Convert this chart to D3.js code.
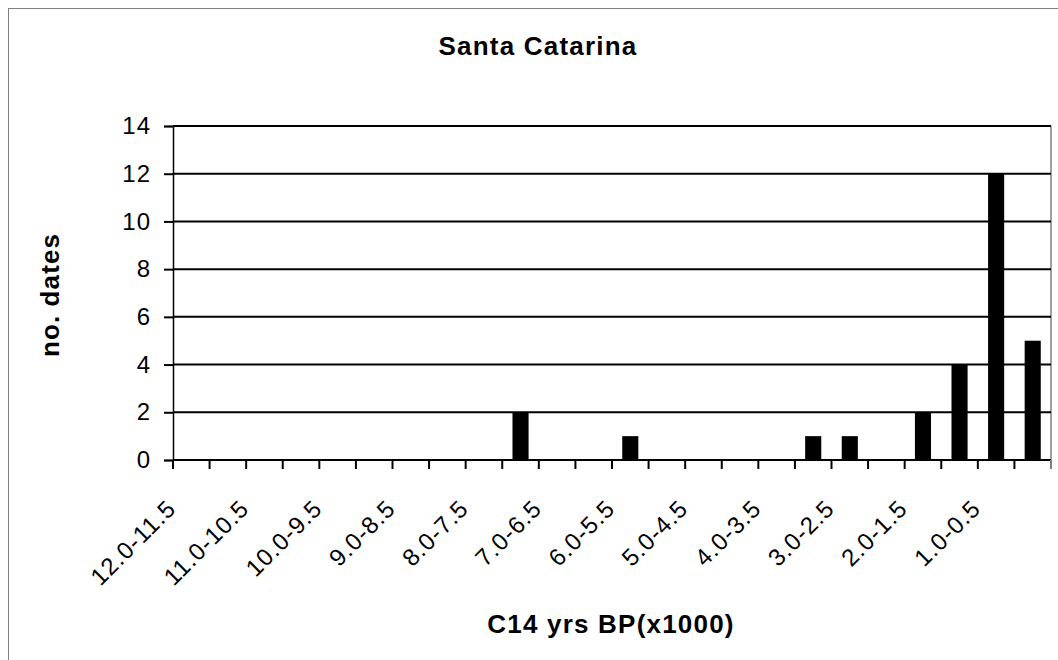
<!DOCTYPE html>
<html>
<head>
<meta charset="utf-8">
<script src="https://cdn.jsdelivr.net/npm/d3@7"></script>
<style>
  html, body { margin: 0; padding: 0; background: #fff; }
  svg { display: block; }
  text { font-family: "Liberation Sans", Arial, sans-serif; fill: #000; }
</style>
</head>
<body>
<svg id="chart" width="1058" height="660"></svg>
<script>
// Data
const categories = ["12.0-11.5","11.5-11.0","11.0-10.5","10.5-10.0","10.0-9.5","9.5-9.0","9.0-8.5","8.5-8.0","8.0-7.5","7.5-7.0","7.0-6.5","6.5-6.0","6.0-5.5","5.5-5.0","5.0-4.5","4.5-4.0","4.0-3.5","3.5-3.0","3.0-2.5","2.5-2.0","2.0-1.5","1.5-1.0","1.0-0.5","0.5-0.0"];
const values = [0,0,0,0,0,0,0,0,0,2,0,0,1,0,0,0,0,1,1,0,2,4,12,5];
const yTicks = [0,2,4,6,8,10,12,14];
const shownLabels = ["12.0-11.5","11.0-10.5","10.0-9.5","9.0-8.5","8.0-7.5","7.0-6.5","6.0-5.5","5.0-4.5","4.0-3.5","3.0-2.5","2.0-1.5","1.0-0.5"];
const title = "Santa Catarina";
const xTitle = "C14 yrs BP(x1000)";
const yTitle = "no. dates";

const svg = d3.select("#chart");
const W = 1058, H = 660;
const plot = {left: 173, right: 1051, top: 126, bottom: 460};

// outer frame
svg.append("rect").attr("x", 8.5).attr("y", 8.5).attr("width", W + 10).attr("height", H + 10)
  .attr("fill", "none").attr("stroke", "#808080").attr("stroke-width", 1);

const x = d3.scaleBand().domain(categories).range([plot.left, plot.right])
  .paddingInner(0.56).paddingOuter(0.28);
const y = d3.scaleLinear().domain([0, 14]).range([plot.bottom, plot.top]);
const step = x.step();

// right border of plot area
svg.append("line").attr("x1", plot.right).attr("x2", plot.right)
  .attr("y1", plot.top).attr("y2", plot.bottom)
  .attr("stroke", "#808080").attr("stroke-width", 1.5);

// gridlines
svg.append("g").selectAll("line").data(yTicks.filter(d => d > 0)).join("line")
  .attr("x1", plot.left).attr("x2", plot.right)
  .attr("y1", d => y(d)).attr("y2", d => y(d))
  .attr("stroke", "#000").attr("stroke-width", 2);

// bars
svg.append("g").selectAll("rect").data(categories.map((c, i) => ({c, v: values[i]})).filter(d => d.v > 0))
  .join("rect")
  .attr("x", d => x(d.c)).attr("width", x.bandwidth())
  .attr("y", d => y(d.v)).attr("height", d => y(0) - y(d.v))
  .attr("fill", "#000");

// y axis
const yAxis = d3.axisLeft(y).tickValues(yTicks).tickSize(9).tickPadding(13).tickFormat(d3.format("d"));
const gy = svg.append("g").attr("transform", `translate(${plot.left},0)`).call(yAxis);
gy.select(".domain").attr("stroke", "#000").attr("stroke-width", 1.5);
gy.selectAll(".tick line").attr("stroke", "#000").attr("stroke-width", 2);
gy.selectAll(".tick text").attr("font-size", 24).attr("letter-spacing", "1px")
  .attr("font-family", "Liberation Sans, Arial, sans-serif");

// x axis line
svg.append("line").attr("x1", plot.left).attr("x2", plot.right)
  .attr("y1", plot.bottom).attr("y2", plot.bottom)
  .attr("stroke", "#000").attr("stroke-width", 2);

// x ticks at category boundaries
const boundaries = categories.map(c => x(c) - x.paddingOuter() * step).concat([plot.right]);
svg.append("g").selectAll("line").data(boundaries).join("line")
  .attr("x1", d => d).attr("x2", d => d)
  .attr("y1", plot.bottom).attr("y2", plot.bottom + 9)
  .attr("stroke", (d, i) => i === boundaries.length - 1 ? "#808080" : "#000").attr("stroke-width", 2);

// x labels
svg.append("g").selectAll("text").data(shownLabels).join("text")
  .attr("transform", d => `translate(${x(d) + x.bandwidth() / 2 - 14},${plot.bottom + 50}) rotate(-45)`)
  .attr("text-anchor", "end")
  .attr("font-size", 24)
  .attr("letter-spacing", "1px")
  .text(d => d);

// titles
svg.append("text").attr("x", 538).attr("y", 55).attr("text-anchor", "middle")
  .attr("font-size", 26).attr("font-weight", "bold").attr("letter-spacing", "1.2px").text(title);
svg.append("text").attr("x", 611).attr("y", 633).attr("text-anchor", "middle")
  .attr("font-size", 26).attr("font-weight", "bold").attr("letter-spacing", "1.2px").text(xTitle);
svg.append("text").attr("transform", "translate(59,295) rotate(-90)").attr("text-anchor", "middle")
  .attr("font-size", 26).attr("font-weight", "bold").attr("letter-spacing", "1.1px").text(yTitle);
</script>
</body>
</html>
